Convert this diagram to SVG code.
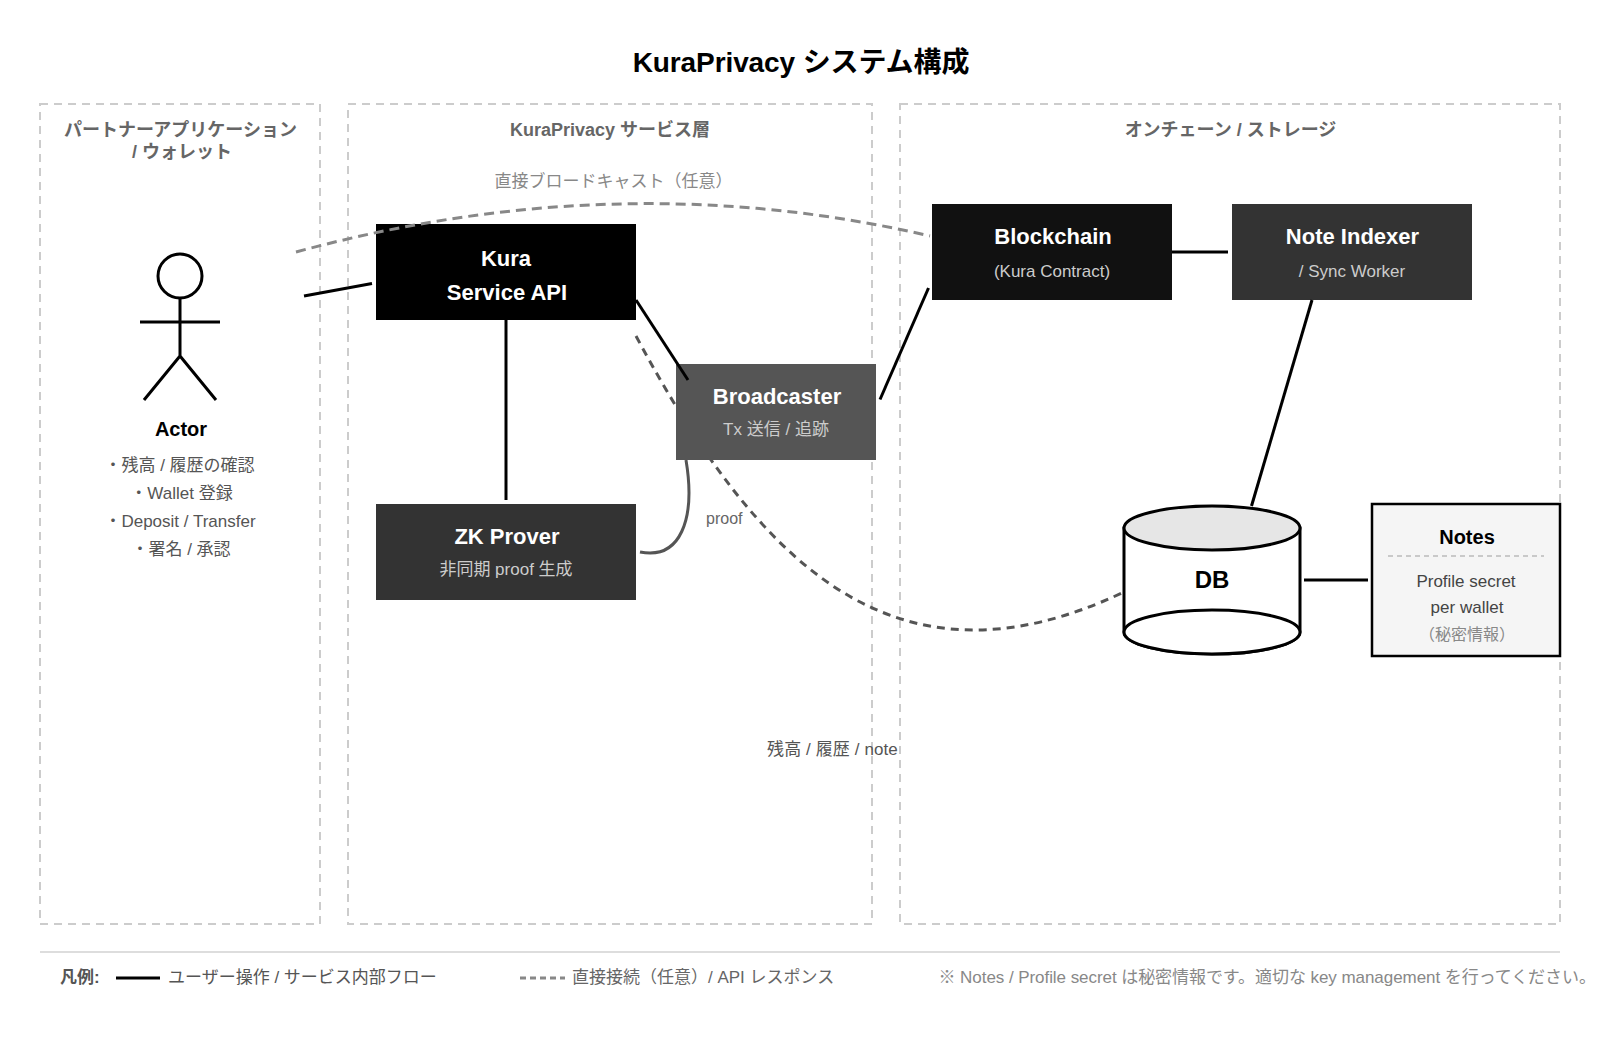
<svg xmlns="http://www.w3.org/2000/svg" width="1600" height="1040" viewBox="0 0 1600 1040">
<defs>
<style>
text{font-family:"Liberation Sans","Noto Sans CJK JP",sans-serif;text-anchor:middle}
.panel{fill:none;stroke:#ccc;stroke-width:2;stroke-dasharray:8 6}
.pt{font-size:18px;font-weight:700;fill:#666}
.nt{font-size:22px;font-weight:700;fill:#fff}
.ns{font-size:17px;fill:#ccc}
.bd{font-size:17px;fill:#555}
.lg{font-size:17px;text-anchor:start}
.s{fill:none;stroke:#000;stroke-width:3;stroke-linecap:butt}
.d1{fill:none;stroke:#888;stroke-width:3;stroke-dasharray:10 6}
.d2{fill:none;stroke:#555;stroke-width:3;stroke-dasharray:8 6}
.cyl{fill:#fff;stroke:#000;stroke-width:3}
</style>
<clipPath id="noBroadcaster"><path clip-rule="evenodd" d="M0 0H1600V1040H0ZM676 364H876V460H676Z"/></clipPath>
</defs>
<rect width="1600" height="1040" fill="#fff"/>
<text x="801" y="72" font-size="28" font-weight="700" fill="#000" letter-spacing="-0.1">KuraPrivacy システム構成</text>
<g id="panels">
<rect class="panel" x="40" y="104" width="280" height="820"/>
<rect class="panel" x="348" y="104" width="524" height="820"/>
<rect class="panel" x="900" y="104" width="660" height="820"/>
<text class="pt" x="180.5" y="136">パートナーアプリケーション</text>
<text class="pt" x="182" y="158">/ ウォレット</text>
<text class="pt" x="610" y="136">KuraPrivacy サービス層</text>
<text class="pt" x="1230.5" y="136">オンチェーン / ストレージ</text>
</g>
<g id="actor">
<circle class="s" cx="180" cy="276" r="22"/>
<path class="s" d="M180 298V356M140 322H220M180 356L144 400M180 356L216 400"/>
<text x="181" y="436" font-size="20" font-weight="700" fill="#000">Actor</text>
<text class="bd" x="179.5" y="471">・残高 / 履歴の確認</text>
<text class="bd" x="181.5" y="499">・Wallet 登録</text>
<text class="bd" x="180" y="527">・Deposit / Transfer</text>
<text class="bd" x="181" y="555">・署名 / 承認</text>
</g>
<g id="kura"><rect x="376" y="224" width="260" height="96" fill="#000"/>
<text class="nt" x="506" y="266">Kura</text><text class="nt" x="507" y="300">Service API</text></g>
<g id="zk"><rect x="376" y="504" width="260" height="96" fill="#333"/>
<text class="nt" x="507" y="544">ZK Prover</text><text class="ns" x="506" y="575">非同期 proof 生成</text></g>
<g id="broadcaster"><rect x="676" y="364" width="200" height="96" fill="#555"/>
<text class="nt" x="777" y="404">Broadcaster</text><text class="ns" x="776" y="435">Tx 送信 / 追跡</text></g>
<g id="blockchain"><rect x="932" y="204" width="240" height="96" fill="#111"/>
<text class="nt" x="1053" y="244">Blockchain</text><text class="ns" x="1052" y="277">(Kura Contract)</text></g>
<g id="indexer"><rect x="1232" y="204" width="240" height="96" fill="#333"/>
<text class="nt" x="1352.5" y="244">Note Indexer</text><text class="ns" x="1352" y="277">/ Sync Worker</text></g>
<g id="db">
<path class="cyl" d="M1124 528V632A88 22 0 0 0 1300 632V528Z"/>
<ellipse cx="1212" cy="632" rx="88" ry="22" fill="#fff" stroke="#000" stroke-width="3"/>
<ellipse cx="1212" cy="528" rx="88" ry="22" fill="#e6e6e6" stroke="#000" stroke-width="3"/>
<text x="1212" y="588" font-size="24" font-weight="700" fill="#000">DB</text>
</g>
<g id="notes">
<rect x="1372" y="504" width="188" height="152" fill="#f5f5f5" stroke="#000" stroke-width="2.5"/>
<line x1="1388" y1="556" x2="1544" y2="556" stroke="#bbb" stroke-width="1.5" stroke-dasharray="5 4"/>
<text x="1467" y="544" font-size="20" font-weight="700" fill="#000">Notes</text>
<text class="bd" x="1466" y="587" style="fill:#444">Profile secret</text>
<text class="bd" x="1467" y="613" style="fill:#444">per wallet</text>
<text class="bd" x="1467" y="640" style="fill:#888;font-size:16px">（秘密情報）</text>
</g>
<g id="connectors">
<path class="s" d="M304 296L372 283.5"/>
<path class="s" d="M506 320V500"/>
<path class="s" d="M636 300L688 380"/>
<path class="s" d="M880 399.5L928.5 288"/>
<path class="s" d="M1172 252H1228"/>
<path class="s" d="M1312 300L1251.5 506"/>
<path class="s" d="M1304 580H1368"/>
<path d="M640 552C680 560 696 520 686 460" fill="none" stroke="#555" stroke-width="3" clip-path="url(#noBroadcaster)"/>
<path class="d2" d="M636 336C756 560 892 702 1124 592" clip-path="url(#noBroadcaster)"/>
<path class="d1" d="M296 252Q620 164 930 236"/>
<text x="613.5" y="187" font-size="17" fill="#888">直接ブロードキャスト（任意）</text>
<text x="706" y="524" font-size="16" fill="#666" style="text-anchor:start">proof</text>
<text class="bd" x="832.5" y="754.5" letter-spacing="0.1">残高 / 履歴 / note</text>
</g>
<g id="legend">
<line x1="40" y1="952" x2="1560" y2="952" stroke="#ddd" stroke-width="2"/>
<text class="lg" x="60" y="983" font-weight="700" fill="#555">凡例:</text>
<line x1="116" y1="978" x2="160" y2="978" stroke="#000" stroke-width="3"/>
<text class="lg" x="168" y="983" fill="#555">ユーザー操作 / サービス内部フロー</text>
<line x1="520" y1="978" x2="565" y2="978" stroke="#888" stroke-width="3" stroke-dasharray="6 4"/>
<text class="lg" x="572" y="983" fill="#666">直接接続（任意）/ API レスポンス</text>
<text class="lg" x="938.5" y="983" fill="#888" letter-spacing="-0.06">※ Notes / Profile secret は秘密情報です。適切な key management を行ってください。</text>
</g>
</svg>
